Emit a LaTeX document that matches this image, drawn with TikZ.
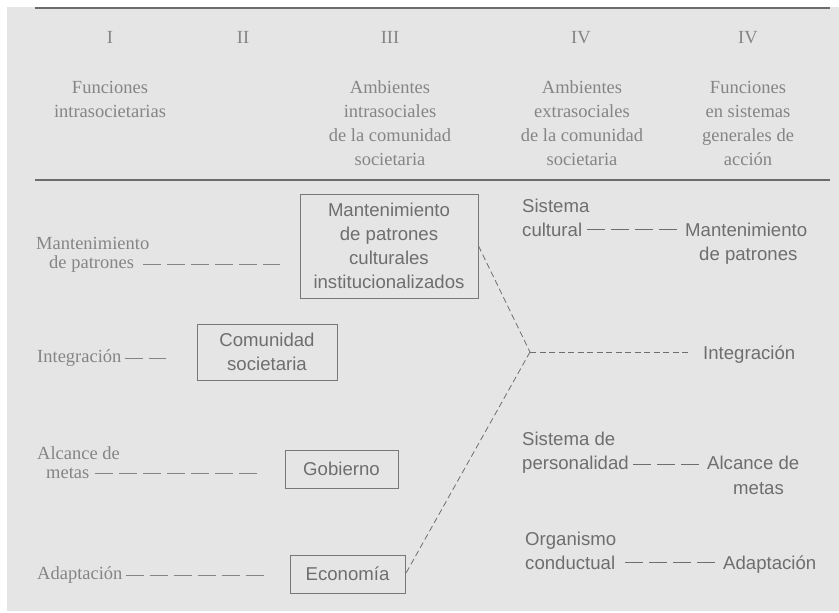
\documentclass[tikz,border=0pt]{standalone}
\usepackage{fontspec}
\setmainfont{Liberation Serif}
\setsansfont{Liberation Sans}
\definecolor{bgcol}{HTML}{E5E5E5}
\definecolor{sercol}{HTML}{858585}
\definecolor{sanscol}{HTML}{6E6E6E}
\definecolor{boxcol}{HTML}{787878}
\definecolor{rulecol}{HTML}{6C6C6C}
\begin{document}
\begin{tikzpicture}[x=1pt,y=-1pt,
  serif/.style={inner sep=0pt, text=sercol, font=\fontsize{18.5}{24}\selectfont},
  sans/.style={inner sep=0pt, text=sanscol, font=\sffamily\fontsize{18.6}{24}\selectfont},
  bx/.style={sans, draw=boxcol, line width=1pt, align=center, minimum width=#1},
  rulel/.style={draw=rulecol, line width=1.8pt},
  emdl/.style={draw=#1, line width=0.9pt, dash pattern=on 18pt off 6pt},
  junc/.style={draw=sanscol, line width=0.8pt, dash pattern=on 6pt off 3.5pt}
]
\useasboundingbox (0,0) rectangle (839,613);
\fill[white] (0,0) rectangle (839,613);
\fill[bgcol] (7,7) rectangle (839,611);

% rules
\draw[rulel] (35,8) -- (830,8);
\draw[rulel] (35,180) -- (830,180);

% header numerals
\node[serif, anchor=base] (n1) at (110,43) {I};
\node[serif, anchor=base] (n2) at (243,43) {II};
\node[serif, anchor=base] (n3) at (390,43) {III};
\node[serif, anchor=base] (n4) at (581,43) {IV};
\node[serif, anchor=base] (n5) at (748,43) {IV};

% header texts
\node[serif, anchor=base] (h1a) at (110,93) {Funciones};
\node[serif, anchor=base] (h1b) at (110,117) {intrasocietarias};
\node[serif, anchor=base] (h3a) at (390,93) {Ambientes};
\node[serif, anchor=base] (h3b) at (390,117) {intrasociales};
\node[serif, anchor=base] (h3c) at (390,141) {de la comunidad};
\node[serif, anchor=base] (h3d) at (390,165) {societaria};
\node[serif, anchor=base] (h4a) at (582,93) {Ambientes};
\node[serif, anchor=base] (h4b) at (582,117) {extrasociales};
\node[serif, anchor=base] (h4c) at (582,141) {de la comunidad};
\node[serif, anchor=base] (h4d) at (582,165) {societaria};
\node[serif, anchor=base] (h5a) at (748,93) {Funciones};
\node[serif, anchor=base] (h5b) at (748,117) {en sistemas};
\node[serif, anchor=base] (h5c) at (748,141) {generales de};
\node[serif, anchor=base] (h5d) at (748,165) {acción};

% boxes
\node[bx=178pt, minimum height=104pt] (b1) at (389,246)
  {Mantenimiento\\de patrones\\culturales\\institucionalizados};
\node[bx=140pt, minimum height=56pt] (b2) at (267,352) {Comunidad\\societaria};
\node[bx=113pt, minimum height=38pt] (b3) at (341.5,469) {Gobierno};
\node[bx=115pt, minimum height=38pt] (b4) at (347.5,574) {Economía};

% left labels
\node[serif, anchor=base west] (lmpa) at (36,249.5) {Mantenimiento};
\node[serif, anchor=base west] (lmpb) at (49,268.5) {de patrones};
\node[serif, anchor=base west] (lint) at (37,362.5) {Integración};
\node[serif, anchor=base west] (lalca) at (37,459.5) {Alcance de};
\node[serif, anchor=base west] (lalcb) at (46,478.5) {metas};
\node[serif, anchor=base west] (ladp) at (37,579.5) {Adaptación};

% right labels
\node[sans, anchor=base west] (rsca) at (522,212) {Sistema};
\node[sans, anchor=base west] (rscb) at (522,236) {cultural};
\node[sans, anchor=base west] (rmpa) at (685,236) {Mantenimiento};
\node[sans, anchor=base west] (rmpb) at (699,260) {de patrones};
\node[sans, anchor=base west] (rint) at (703,359) {Integración};
\node[sans, anchor=base west] (rspa) at (522,445) {Sistema de};
\node[sans, anchor=base west] (rspb) at (522,469) {personalidad};
\node[sans, anchor=base west] (ralca) at (707,469) {Alcance de};
\node[sans, anchor=base west] (ralcb) at (733,494) {metas};
\node[sans, anchor=base west] (roca) at (525,545) {Organismo};
\node[sans, anchor=base west] (rocb) at (525,569) {conductual};
\node[sans, anchor=base west] (radp) at (723,569) {Adaptación};

% left em-dash connectors
\draw[emdl=sercol, shorten <=9pt, shorten >=20pt] (lmpb.east) -- (b1.west |- lmpb.east);
\draw[emdl=sercol, shorten <=3pt, shorten >=31pt] (lint.east) -- (b2.west |- lint.east);
\draw[emdl=sercol, shorten <=5pt, shorten >=23pt] (lalcb.east) -- (b3.west |- lalcb.east);
\draw[emdl=sercol, shorten <=3pt, shorten >=26pt] (ladp.east) -- (b4.west |- ladp.east);

% right em-dash connectors
\draw[emdl=sanscol, shorten <=5pt, shorten >=8pt] (rscb.east) -- (rmpa.west |- rscb.east);
\draw[emdl=sanscol, shorten <=4.5pt, shorten >=8pt] (rspb.east) -- (ralca.west |- rspb.east);
\draw[emdl=sanscol, shorten <=10pt, shorten >=8pt] (rocb.east) -- (radp.west |- rocb.east);

% junction
\coordinate (J) at (530,352);
\draw[junc] (b1.east) -- (J);
\draw[junc] (J) -- (b4.east);
\draw[junc, shorten >=13pt] (J) -- (rint.west |- J);
\end{tikzpicture}
\end{document}
